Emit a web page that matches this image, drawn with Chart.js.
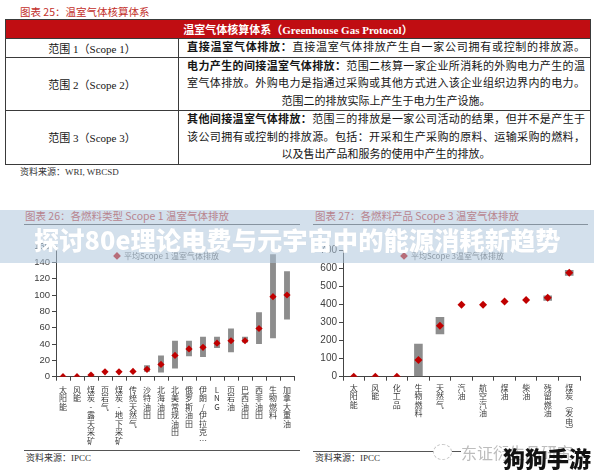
<!DOCTYPE html>
<html lang="zh-CN">
<head>
<meta charset="UTF-8" />
<title>温室气体排放</title>
<script src="https://cdn.jsdelivr.net/npm/chart.js"></script>
<style>
  body { margin: 0; background: #fff; font-family: "Noto Sans CJK SC", sans-serif; }
  .page { position: relative; width: 594px; height: 475px; overflow: hidden; background: #fff; }
  .abs { position: absolute; white-space: nowrap; }
  .fig-title { color: #c3302b; font-size: 10.5px; line-height: 14px; }
  .source { color: #333; font-size: 9px; line-height: 12px; font-family: "Liberation Serif", "Noto Sans CJK SC", serif; }
  .rule { position: absolute; height: 0; border-top: 1px solid #555; }
  table.ghg {
    position: absolute; left: 5px; top: 19px; width: 585px;
    border-collapse: collapse; table-layout: fixed;
    font-family: "Liberation Serif", "Noto Sans CJK SC", serif; font-size: 11px; color: #151515;
  }
  table.ghg td { border: 1px solid #3a3a3a; padding: 0; vertical-align: middle; }
  table.ghg .head td { background: #c00d12; color: #fff; text-align: center; height: 18px; font-weight: bold; }
  table.ghg .name { text-align: center; }
  table.ghg .desc { padding: 0 5px 0 8px; }
  .ln { line-height: 17.3px; text-align: justify; text-align-last: justify; white-space: nowrap; }
  .ln.c { text-align: center; text-align-last: center; }
  .ln b { font-weight: bold; }
  .chartbox { position: absolute; }
  .legend { position: absolute; font-size: 8px; line-height: 10px; color: #666; white-space: nowrap; transform: translateX(-50%); }
  .legend i { font-style: normal; color: #c00000; margin-right: 3px; }
  .banner { position: absolute; left: 0; top: 210px; width: 594px; height: 53px; background: rgba(175, 198, 220, 0.55); }
  .banner span { position: absolute; left: 34px; top: 14px; line-height: 30px; font-size: 25.3px; font-weight: 900; color: #fff; white-space: nowrap; text-shadow: 0 0 1px rgba(0,0,0,0.08); }
</style>
</head>
<body>
<div class="page">
  <div class="abs fig-title" style="left:20px; top:5px;">图表 25：温室气体核算体系</div>
  <table class="ghg">
    <colgroup><col style="width:173px" /><col style="width:412px" /></colgroup>
    <tr class="head"><td colspan="2">温室气体核算体系（Greenhouse Gas Protocol）</td></tr>
    <tr style="height:19px">
      <td class="name">范围 1（Scope 1）</td>
      <td class="desc"><div class="ln"><b>直接温室气体排放：</b>直接温室气体排放产生自一家公司拥有或控制的排放源。</div></td>
    </tr>
    <tr style="height:52px">
      <td class="name">范围 2（Scope 2）</td>
      <td class="desc">
        <div class="ln"><b>电力产生的间接温室气体排放：</b>范围二核算一家企业所消耗的外购电力产生的温</div>
        <div class="ln">室气体排放。外购电力是指通过采购或其他方式进入该企业组织边界内的电力。</div>
        <div class="ln c">范围二的排放实际上产生于电力生产设施。</div>
      </td>
    </tr>
    <tr style="height:54px">
      <td class="name">范围 3（Scope 3）</td>
      <td class="desc">
        <div class="ln"><b>其他间接温室气体排放：</b>范围三的排放是一家公司活动的结果，但并不是产生于</div>
        <div class="ln">该公司拥有或控制的排放源。包括：开采和生产采购的原料、运输采购的燃料，</div>
        <div class="ln c">以及售出产品和服务的使用中产生的排放。</div>
      </td>
    </tr>
  </table>
  <div class="abs source" style="left:20px; top:166px;">资料来源：WRI, WBCSD</div>

  <div class="abs fig-title" style="left:25px; top:209px;">图表 26：各燃料类型 Scope 1 温室气体排放</div>
  <div class="rule" style="left:24px; top:224px; width:276px;"></div>
  <div class="abs fig-title" style="left:315px; top:209px;">图表 27：各燃料产品 Scope 3 温室气体排放</div>
  <div class="rule" style="left:313px; top:224px; width:275px;"></div>

  <div class="chartbox" style="left:20px; top:236px;"><canvas id="scope1" width="278" height="214"></canvas></div>
  <div class="chartbox" style="left:305px; top:240px;"><canvas id="scope3" width="279" height="210"></canvas></div>
  <div class="legend" id="legend1" style="left:166px; top:251px;"></div>
  <div class="legend" id="legend3" style="left:452px; top:251px;"></div>

  <div class="rule" style="left:24px; top:450px; width:276px;"></div>
  <div class="abs source" style="left:26px; top:452px;">资料来源：IPCC</div>
  <div class="rule" style="left:313px; top:451px; width:277px;"></div>
  <div class="abs source" style="left:315px; top:452px;">资料来源：IPCC</div>

  <div class="banner"><span>探讨80e理论电费与元宇宙中的能源消耗新趋势</span></div>

  <div class="abs" style="left:433px; top:444px; width:17px; height:14px; border:1px dashed #c8c8c8; border-radius:50%; background:#fff;"></div>
  <div class="abs" style="left:461px; top:441px; font-size:16px; line-height:22px; color:#bdbdbd; background:#fff; padding-right:4px;">东证衍生品研究</div>
  <div class="abs" style="left:503px; top:444px; font-size:22px; line-height:26px; font-weight:900; color:#111;">狗狗手游</div>
</div>

<script>
  // 图表 26: Scope 1
  const scope1Labels = ["太阳能", "风能", "煤炭-露天采矿", "页岩气", "煤炭-地下采矿", "传统天然气", "沙特油田",
    "北海油田", "北美常规油田", "俄罗斯油田", "伊朗/伊拉克…", "LNG", "页岩油", "巴西油田", "西非油田", "生物燃料", "加拿大重油"];
  const scope1Avg = [0, 0, 2, 6, 6, 6.5, 9, 15, 26, 34, 36, 41, 44, 44, 59, 98, 100];
  const scope1Low = [null, null, null, null, null, null, 6, 5, 10, 25, 24, 35, 30, 42, 40, 47, 70];
  const scope1High = [null, null, null, null, null, null, 14, 26, 44, 44, 49, 49, 59, 49, 79, 150, 129];
  const scope1YMax = 160;
  const scope1YStep = 20;

  // 图表 27: Scope 3
  const scope3Labels = ["太阳能", "风能", "化工品", "生物燃料", "天然气", "汽油", "航空汽油", "煤油", "柴油", "残留燃油", "煤炭（发电）"];
  const scope3Avg = [0, 0, 0, 92, 282, 397, 397, 416, 424, 436, 574];
  const scope3Low = [null, null, null, 0, 235, null, null, null, null, 420, 558];
  const scope3High = [null, null, null, 182, 330, null, null, null, null, 448, 590];
  const scope3YMax = 700;
  const scope3YStep = 100;

  // stack the characters so the category names read top to bottom
  function vertical(label) {
    return Array.from(label.replace("（", "︵").replace("）", "︶"));
  }

  function makeChart(id, legendId, name, labels, avg, low, high, yMax, yStep, barPct, pointR, yFont, yWidth, xPad) {
    const ranges = low.map((lo, i) => (lo === null ? null : [lo, high[i]]));
    const chart = new Chart(document.getElementById(id), {
      type: "bar",
      data: {
        labels: labels.map(vertical),
        datasets: [
          {
            type: "line",
            label: name,
            data: avg,
            showLine: false,
            pointStyle: "rectRot",
            pointRadius: pointR,
            pointBackgroundColor: "#c00000",
            pointBorderColor: "#c00000",
            pointBorderWidth: 0,
            order: 0
          },
          {
            label: "区间",
            data: ranges,
            backgroundColor: "#8d8d8d",
            borderWidth: 0,
            categoryPercentage: 1,
            barPercentage: barPct,
            order: 1
          }
        ]
      },
      options: {
        responsive: false,
        devicePixelRatio: 1,
        animation: false,
        layout: { padding: { top: 10, right: 0, bottom: 0, left: 0 } },
        plugins: { legend: { display: false }, tooltip: { enabled: false } },
        scales: {
          x: {
            grid: { drawOnChartArea: false, tickLength: 4, color: "#444", offset: true },
            border: { color: "#444", width: 1 },
            ticks: {
              autoSkip: false, maxRotation: 0, minRotation: 0, padding: xPad,
              color: "#3a3a3a",
              font: { family: "Noto Sans CJK SC", size: 8, lineHeight: 1.06 }
            },
            afterFit: (s) => { s.height = 73.3; }
          },
          y: {
            min: 0, max: yMax,
            grid: { drawOnChartArea: false, tickLength: 4, color: "#444" },
            border: { color: "#444", width: 1 },
            ticks: {
              stepSize: yStep, padding: 2, color: "#404040",
              font: { family: "Liberation Sans", size: yFont }
            },
            afterFit: (s) => { s.width = yWidth; }
          }
        }
      }
    });
    const ds = chart.data.datasets[0];
    document.getElementById(legendId).innerHTML = "<i>◆</i>" + ds.label;
    return chart;
  }

  makeChart("scope1", "legend1", "平均Scope 1 温室气体排放", scope1Labels, scope1Avg, scope1Low, scope1High,
    scope1YMax, scope1YStep, 0.42, 3.6, 9.5, 36, 5);
  makeChart("scope3", "legend3", "平均Scope 3温室气体排放", scope3Labels, scope3Avg, scope3Low, scope3High,
    scope3YMax, scope3YStep, 0.4, 4, 10, 38, 3);
</script>
</body>
</html>
